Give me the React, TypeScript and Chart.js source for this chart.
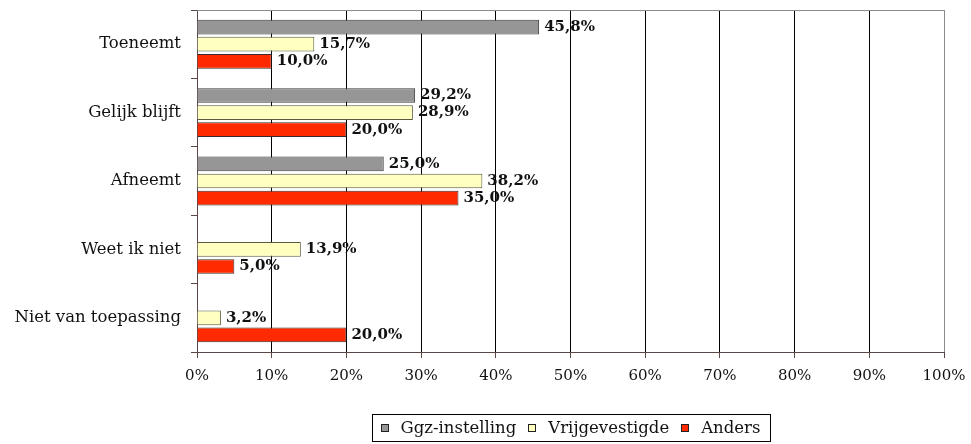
import React, { useEffect, useRef } from "react";
import { Chart, registerables } from "chart.js";

Chart.register(...registerables);

const categories = ["Toeneemt", "Gelijk blijft", "Afneemt", "Weet ik niet", "Niet van toepassing"];
const seriesNames = ["Ggz-instelling", "Vrijgevestigde", "Anders"];
const ggzValues: (number | null)[] = [45.8, 29.2, 25.0, null, null];
const vrijValues: (number | null)[] = [15.7, 28.9, 38.2, 13.9, 3.2];
const andersValues: (number | null)[] = [10.0, 20.0, 35.0, 5.0, 20.0];
const xTicks = [0, 10, 20, 30, 40, 50, 60, 70, 80, 90, 100];

const FONT = "'DejaVu Serif', serif";
const fillColors = ["#969696", "#FFFFC0", "#FF2A00"];
const borderColors = ["#3a3a3a", "#5a5a40", "#3a2a2a"];

const fmt = (v: number) => v.toFixed(1).replace(".", ",") + "%";

const labelPlugin = {
  id: "barLabels",
  afterDatasetsDraw(chart: any) {
    const ctx = chart.ctx;
    ctx.save();
    ctx.font = `bold 15px ${FONT}`;
    ctx.fillStyle = "#111";
    ctx.textAlign = "left";
    ctx.textBaseline = "middle";
    chart.data.datasets.forEach((ds: any, di: number) => {
      const meta = chart.getDatasetMeta(di);
      meta.data.forEach((bar: any, i: number) => {
        const v = ds.data[i];
        if (v === null || v === undefined) return;
        ctx.fillText(fmt(v), bar.x + 5, bar.y);
      });
    });
    ctx.restore();
  },
};

const framePlugin = {
  id: "frame",
  afterDraw(chart: any) {
    const ctx = chart.ctx;
    const a = chart.chartArea;
    ctx.save();
    ctx.strokeStyle = "#8c8c8c";
    ctx.lineWidth = 1;
    ctx.beginPath();
    ctx.moveTo(a.left, Math.round(a.top) + 0.5);
    ctx.lineTo(a.right, Math.round(a.top) + 0.5);
    ctx.stroke();
    // legend
    ctx.font = `16.5px ${FONT}`;
    const marker = 8;
    const gapMT = 12;
    const gapItems = 12;
    const padL = 8;
    const padR = 10;
    const widths = seriesNames.map((n) => ctx.measureText(n).width);
    const total =
      padL + widths.reduce((s, w) => s + marker + gapMT + w, 0) + gapItems * (seriesNames.length - 1) + padR;
    const cx = (a.left + a.right) / 2;
    const bx = Math.round(cx - total / 2) + 0.5;
    const by = 414.5;
    const bh = 27;
    ctx.strokeStyle = "#000";
    ctx.lineWidth = 1;
    ctx.strokeRect(bx, by, Math.round(total), bh);
    let x = bx + padL;
    const my = by + bh / 2;
    ctx.textBaseline = "middle";
    ctx.textAlign = "left";
    seriesNames.forEach((n, i) => {
      ctx.fillStyle = fillColors[i];
      ctx.fillRect(Math.round(x), Math.round(my - marker / 2), marker, marker);
      ctx.strokeStyle = "#222";
      ctx.strokeRect(Math.round(x) + 0.5, Math.round(my - marker / 2) + 0.5, marker - 1, marker - 1);
      x += marker + gapMT;
      ctx.fillStyle = "#111";
      ctx.fillText(n, x, my + 1);
      x += widths[i] + gapItems;
    });
    ctx.restore();
  },
};

const zeroPad = (scale: any) => {
  scale.paddingTop = 0;
  scale.paddingBottom = 0;
  scale.paddingLeft = 0;
  scale.paddingRight = 0;
};

export default function App() {
  const ref = useRef<HTMLCanvasElement | null>(null);
  useEffect(() => {
    document.body.style.margin = "0";
    const canvas = ref.current;
    if (!canvas) return;
    const mk = (i: number, data: (number | null)[]) => ({
      label: seriesNames[i],
      data,
      backgroundColor: fillColors[i],
      borderColor: borderColors[i],
      borderWidth: 1,
      categoryPercentage: 0.75,
      barPercentage: 0.86,
      skipNull: false,
    });
    const chart = new Chart(canvas, {
      type: "bar",
      data: {
        labels: categories,
        datasets: [mk(0, ggzValues), mk(1, vrijValues), mk(2, andersValues)],
      },
      options: {
        indexAxis: "y",
        animation: false,
        responsive: false,
        maintainAspectRatio: false,
        layout: { padding: { top: 10, right: 27, bottom: 52, left: 0 } },
        plugins: { legend: { display: false }, tooltip: { enabled: false } },
        scales: {
          x: {
            min: 0,
            max: 100,
            afterBuildTicks: (scale: any) => {
              scale.ticks = xTicks.map((v) => ({ value: v }));
            },
            afterFit: (scale: any) => {
              scale.height = 40;
              zeroPad(scale);
            },
            ticks: {
              callback: (v: any) => v + "%",
              font: { family: FONT, size: 15 },
              color: "#111",
              padding: 9,
              maxRotation: 0,
              autoSkip: false,
            },
            grid: {
              color: (c: any) => (c.tick && c.tick.value === 100 ? "#8c8c8c" : "#000"),
              lineWidth: 1,
              tickColor: "#5a4848",
              tickLength: 6,
              drawTicks: true,
            },
            border: { color: "#5a4848", width: 1 },
          },
          y: {
            afterFit: (scale: any) => {
              scale.width = 197;
              zeroPad(scale);
            },
            ticks: {
              font: { family: FONT, size: 16.5 },
              color: "#111",
              padding: 10,
            },
            grid: {
              drawOnChartArea: false,
              drawTicks: true,
              tickLength: 6,
              tickColor: "#5a4848",
              offset: true,
            },
            border: { color: "#5a4848", width: 1 },
          },
        },
      },
      plugins: [labelPlugin, framePlugin],
    } as any);
    return () => chart.destroy();
  }, []);
  return <canvas ref={ref} width={971} height={444} style={{ display: "block" }} />;
}
